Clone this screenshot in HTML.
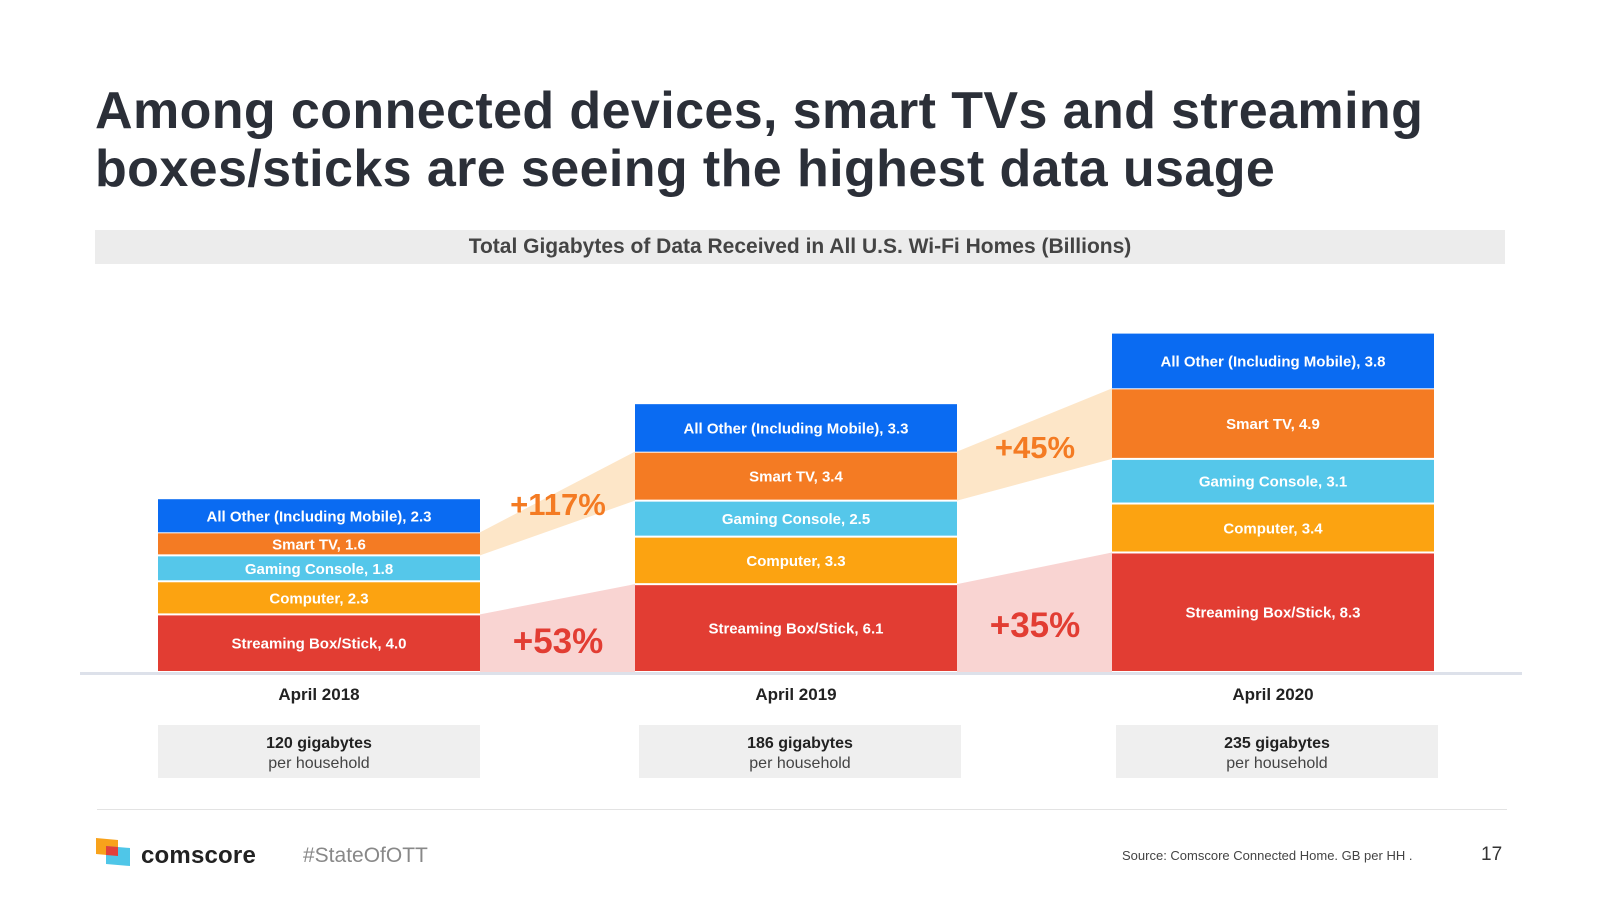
<!DOCTYPE html>
<html><head><meta charset="utf-8"><style>
body{margin:0;width:1600px;height:900px;background:#fff;font-family:"Liberation Sans",Arial,sans-serif;overflow:hidden;position:relative}
.t{position:absolute}
</style></head><body>
<div class="t" style="left:95px;top:82px;font-size:52px;font-weight:bold;color:#2b2f38;line-height:58px;letter-spacing:0.4px">Among connected devices, smart TVs and streaming<br>boxes/sticks are seeing the highest data usage</div>
<div class="t" style="left:95px;top:230px;width:1410px;height:34px;background:#ececec;color:#444;font-size:21px;font-weight:bold;text-align:center;line-height:34px">Total Gigabytes of Data Received in All U.S. Wi-Fi Homes (Billions)</div>
<svg id="chart" class="t" style="left:0;top:0" width="1600" height="900"></svg>
<div class="t" style="left:97px;top:809px;width:1410px;height:1px;background:#e3e3e3"></div>
<svg class="t" style="left:96px;top:838px" width="36" height="28"><polygon points="0,0 22,2 22,18 0,16" fill="#f8a21b"/><polygon points="10,8 34,10 34,28 10,26" fill="#4fc6e8"/><polygon points="10,8 22,9 22,18 10,17" fill="#e2403a"/></svg>
<div class="t" style="left:141px;top:842px;font-size:24px;color:#222;font-weight:bold;letter-spacing:0.2px">comscore</div>
<div class="t" style="left:303px;top:844px;font-size:21px;color:#888">#StateOfOTT</div>
<div class="t" style="left:1122px;top:848px;font-size:13px;color:#444">Source: Comscore Connected Home. GB per HH .</div>
<div class="t" style="left:1481px;top:844px;font-size:19px;color:#333">17</div>
<script>
const years=['April 2018','April 2019','April 2020'];
const series=['Streaming Box/Stick','Computer','Gaming Console','Smart TV','All Other (Including Mobile)'];
const streaming=[4.0,6.1,8.3];
const computer=[2.3,3.3,3.4];
const gaming=[1.8,2.5,3.1];
const smartTV=[1.6,3.4,4.9];
const allOther=[2.3,3.3,3.8];
const gbPerHH=['120 gigabytes','186 gigabytes','235 gigabytes'];
const tvGrowth=['+117%','+45%'];
const streamGrowth=['+53%','+35%'];
const colors=['#e23d33','#fca311','#55c7ea','#f47b23','#0a6bf2'];
const vals=[streaming,computer,gaming,smartTV,allOther];
const svg=document.getElementById('chart');const NS='http://www.w3.org/2000/svg';
const base=672,scale=14.4,barW=322,x0=158,step=477;
const tvNudge=[12,27];
const y=v=>base-v*scale;const bx=i=>x0+i*step;
function mk(tag,attrs,parent){const e=document.createElementNS(NS,tag);for(const k in attrs)e.setAttribute(k,attrs[k]);(parent||svg).appendChild(e);return e;}
const bounds=years.map((_,i)=>{let c=0;return vals.map(s=>{const a=c;c+=s[i];return [a,c];});});
for(let i=0;i<2;i++){
 [[3,'#fde6c8'],[0,'#f9d4d2']].forEach(([k,col])=>{
  const a=bounds[i][k],b=bounds[i+1][k];
  const p=mk('polygon',{points:`${bx(i)+barW},${y(a[1])} ${bx(i+1)},${y(b[1])} ${bx(i+1)},${y(b[0])} ${bx(i)+barW},${y(a[0])}`,fill:col});
  
  
 });
 const t1=mk('text',{x:bx(i)+barW+78,y:(y(bounds[i][3][1])+y(bounds[i+1][3][1]))/2+tvNudge[i]+11,'text-anchor':'middle','font-size':31,'font-weight':'bold',fill:'#f47b23'});t1.textContent=tvGrowth[i];
 
 
 const t2=mk('text',{x:bx(i)+barW+78,y:(y(bounds[i+1][0][1])+base)/2+25,'text-anchor':'middle','font-size':35,'font-weight':'bold',fill:'#e23d33'});t2.textContent=streamGrowth[i];
 
 
}
years.forEach((yr,i)=>{
 vals.forEach((s,k)=>{
  const [a,b]=bounds[i][k];
  const r=mk('rect',{x:bx(i),y:y(b)+(k<4?1:0),width:barW,height:Math.max(1,(b-a)*scale-(k<4?2:0)),fill:colors[k]});
  
  
  const t=mk('text',{x:bx(i)+barW/2,y:(y(a)+y(b))/2+5.5,'text-anchor':'middle','font-size':15,'font-weight':'bold',fill:'#fff'});t.textContent=series[k]+', '+s[i].toFixed(1);
  
  
 });
 const l=mk('text',{x:bx(i)+barW/2,y:700,'text-anchor':'middle','font-size':17,'font-weight':'bold',fill:'#222'});l.textContent=yr;
 
 
 const bxr=mk('rect',{x:bx(i)+(i==0?0:4),y:725,width:barW,height:53,fill:'#efefef'});
 
 
 const g=mk('text',{x:bx(i)+(i==0?0:4)+barW/2,y:748,'text-anchor':'middle','font-size':16,'font-weight':'bold',fill:'#222'});g.textContent=gbPerHH[i];
 
 
 const h=mk('text',{x:bx(i)+(i==0?0:4)+barW/2,y:768,'text-anchor':'middle','font-size':16,fill:'#444'});h.textContent='per household';
 
 
});
const ax=mk('rect',{x:80,y:base,width:1442,height:3,fill:'#dde1ea'});


</script>
</body></html>
